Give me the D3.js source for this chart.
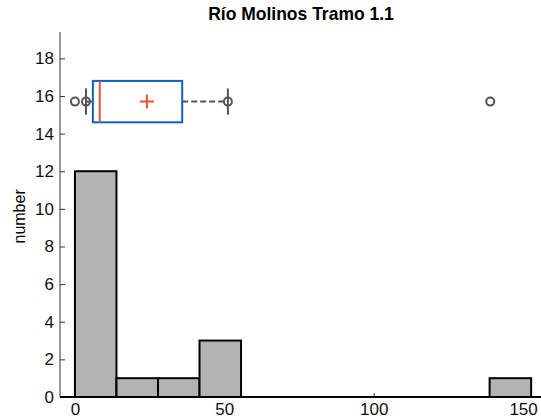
<!DOCTYPE html>
<html>
<head>
<meta charset="utf-8">
<script src="https://cdn.jsdelivr.net/npm/d3@7"></script>
<style>
    body { margin: 0; background: #fff; }
    text { font-family: "Liberation Sans", Arial, sans-serif; }
</style>
</head>
<body>
<svg id="chart" width="541" height="420"></svg>
<script>
// histogram bins (left edge, count), bin width
var binLefts = [0, 13.9, 27.8, 41.7, 55.6, 69.5, 83.4, 97.3, 111.2, 125.1, 138.8];
var binCounts = [12, 1, 1, 3, 0, 0, 0, 0, 0, 0, 1];
var binWidth = 13.9;

// box plot summary
var boxStats = {q1: 6.0, median: 8.3, q3: 35.9, mean: 24.1, lo: 3.7, hi: 51.2};
var boxLevel = 15.7;
var points = [0, 3.7, 51.2, 139];

var xTicks = [0, 50, 100, 150];
var yTicks = [0, 2, 4, 6, 8, 10, 12, 14, 16, 18];

var svg = d3.select("#chart");
var margin = {top: 32, right: 0, bottom: 23, left: 60};
var width = 541 - margin.left - margin.right;
var height = 420 - margin.top - margin.bottom;

var x = d3.scaleLinear().domain([-5, 156]).range([0, width]);
var y = d3.scaleLinear().domain([0, 19.4]).range([height, 0]);

var root = svg.append("g")
    .attr("transform", "translate(" + margin.left + "," + margin.top + ")");

svg.append("text")
    .attr("x", 301).attr("y", 20)
    .attr("text-anchor", "middle")
    .style("font-size", "17.5px").style("font-weight", "bold")
    .text("Río Molinos Tramo 1.1");

// y axis
var yAxis = root.append("g")
    .call(d3.axisLeft(y).tickValues(yTicks).tickSize(-5).tickPadding(6));
yAxis.select(".domain").attr("stroke", "#333").attr("d", "M0," + height + "V0");
yAxis.selectAll(".tick line").attr("stroke", "#333");
yAxis.selectAll("text").style("font-size", "17px").attr("fill", "#111");

// x axis
var xAxis = root.append("g")
    .attr("transform", "translate(0," + height + ")")
    .call(d3.axisBottom(x).tickValues(xTicks).tickSize(-4).tickPadding(6));
xAxis.select(".domain").remove();
xAxis.selectAll(".tick line").attr("stroke", "#333");
xAxis.selectAll("text").style("font-size", "17px").attr("fill", "#111");

root.append("text")
    .attr("transform", "rotate(-90)")
    .attr("x", -y(9.6)).attr("y", -35)
    .attr("text-anchor", "middle")
    .style("font-size", "16px")
    .text("number");

// histogram
var bins = binLefts.map(function (d, i) { return [d, binCounts[i]]; });
root.selectAll(".bar")
    .data(bins.filter(function (d) { return d[1] > 0; }))
    .enter().append("rect")
    .attr("class", "bar")
    .attr("x", function (d) { return x(d[0]); })
    .attr("width", function (d) { return x(d[0] + binWidth) - x(d[0]); })
    .attr("y", function (d) { return y(d[1]); })
    .attr("height", function (d) { return y(0) - y(d[1]); })
    .attr("fill", "#b3b3b3")
    .attr("stroke", "#000")
    .attr("stroke-width", 2);

root.append("line")
    .attr("x1", 0).attr("x2", width)
    .attr("y1", y(0)).attr("y2", y(0))
    .attr("stroke", "#000").attr("stroke-width", 2);

// box plot
var by = y(boxLevel);
var capHalf = (y(15) - y(16.4)) / 2;
root.append("line")
    .attr("x1", x(boxStats.q3)).attr("x2", x(boxStats.hi))
    .attr("y1", by).attr("y2", by)
    .attr("stroke", "#555").attr("stroke-width", 2)
    .attr("stroke-dasharray", "6,3");
root.append("line")
    .attr("x1", x(boxStats.lo)).attr("x2", x(boxStats.q1))
    .attr("y1", by).attr("y2", by)
    .attr("stroke", "#555").attr("stroke-width", 2)
    .attr("stroke-dasharray", "6,3");
[boxStats.lo, boxStats.hi].forEach(function (v) {
    root.append("line")
        .attr("x1", x(v)).attr("x2", x(v))
        .attr("y1", by - capHalf).attr("y2", by + capHalf)
        .attr("stroke", "#555").attr("stroke-width", 2);
});
root.append("rect")
    .attr("x", x(boxStats.q1))
    .attr("width", x(boxStats.q3) - x(boxStats.q1))
    .attr("y", y(16.8))
    .attr("height", y(14.6) - y(16.8))
    .attr("fill", "#fff")
    .attr("stroke", "#0f62c8").attr("stroke-width", 2);
root.append("line")
    .attr("x1", x(boxStats.median)).attr("x2", x(boxStats.median))
    .attr("y1", y(16.8) + 1).attr("y2", y(14.6) - 1)
    .attr("stroke", "#f2502a").attr("stroke-width", 2);
var mx = x(boxStats.mean);
root.append("path")
    .attr("d", "M" + (mx - 7) + "," + by + "H" + (mx + 7) + "M" + mx + "," + (by - 7) + "V" + (by + 7))
    .attr("stroke", "#f2502a").attr("stroke-width", 2);

root.selectAll(".pt")
    .data(points)
    .enter().append("circle")
    .attr("class", "pt")
    .attr("cx", function (d) { return x(d); })
    .attr("cy", by)
    .attr("r", 4)
    .attr("fill", "none")
    .attr("stroke", "#555").attr("stroke-width", 2);
</script>
</body>
</html>
